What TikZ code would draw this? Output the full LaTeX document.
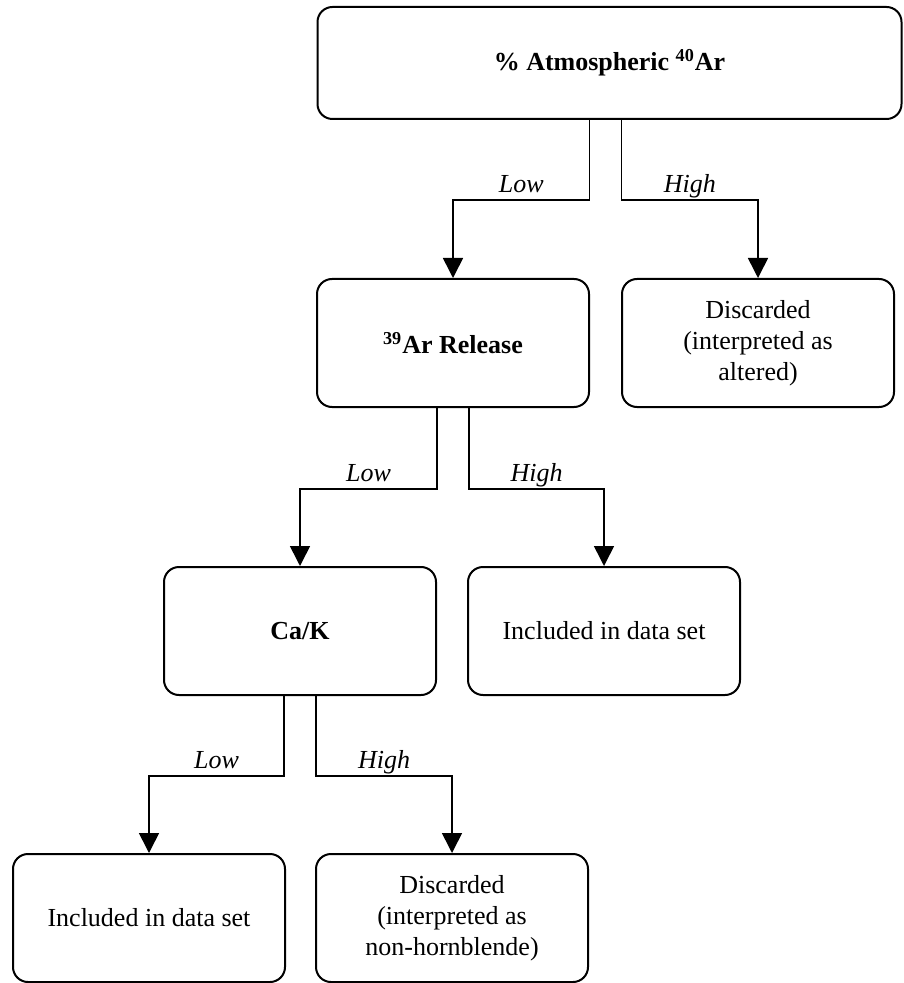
\documentclass[tikz,border=0pt]{standalone}
\usepackage{fontspec}
\setmainfont{Liberation Serif}
\usetikzlibrary{arrows.meta}

\tikzset{
  box/.style={draw, line width=1pt, rounded corners=7.5pt, minimum width=136pt,
    minimum height=64pt, align=center, inner sep=2pt,
    font=\fontsize{13}{15.5}\selectfont},
  arr/.style={line width=0.8pt, -{Triangle[length=10pt,width=10pt]}},
  lbl/.style={above, inner sep=1pt, text depth=0.22em,
    font=\fontsize{13}{15.5}\selectfont\itshape}
}

\begin{document}
\begin{tikzpicture}[x=0.5pt,y=-0.5pt]
        \useasboundingbox (0,0) rectangle (903,983);
        \node[box, minimum width=292pt, minimum height=56pt] (atm) at (609.5,63) {\textbf{\% Atmospheric \textsuperscript{40}Ar}};
        \node[box] (arel) at (453,343) {\textbf{\textsuperscript{39}Ar Release}};
        \node[box] (alt) at (758,343) {Discarded\\(interpreted as\\altered)};
        \node[box] (cak) at (300,631) {\textbf{Ca/K}};
        \node[box] (incA) at (604,631) {Included in data set};
        \node[box] (incB) at (149,918) {Included in data set};
        \node[box] (nhb) at (452,918) {Discarded\\(interpreted as\\non-hornblende)};
        \draw[arr] ([xshift=-10pt]atm.south) -- ++(0,80) -| node[lbl, pos=0.25] {Low} (arel.north);
        \draw[arr] ([xshift=6pt]atm.south) -- ++(0,80) -| node[lbl, pos=0.25] {High} (alt.north);
        \draw[arr] ([xshift=-8pt]arel.south) -- ++(0,81) -| node[lbl, pos=0.25] {Low} (cak.north);
        \draw[arr] ([xshift=8pt]arel.south) -- ++(0,81) -| node[lbl, pos=0.25] {High} (incA.north);
        \draw[arr] ([xshift=-8pt]cak.south) -- ++(0,80) -| node[lbl, pos=0.25] {Low} (incB.north);
        \draw[arr] ([xshift=8pt]cak.south) -- ++(0,80) -| node[lbl, pos=0.25] {High} (nhb.north);
        \end{tikzpicture}
\end{document}
